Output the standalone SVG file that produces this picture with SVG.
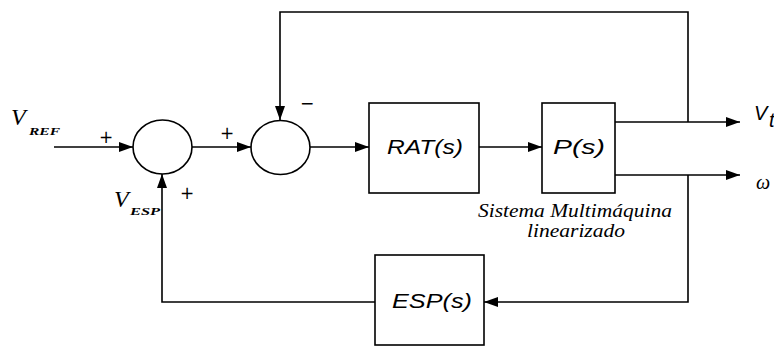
<svg xmlns="http://www.w3.org/2000/svg" width="774" height="347" viewBox="0 0 774 347">
<defs>
<marker id="arr" viewBox="0 0 14 10" refX="14" refY="5" markerWidth="14" markerHeight="10" markerUnits="userSpaceOnUse" orient="auto">
<path d="M0,0 L14,5 L0,10 Z" fill="#000"/>
</marker>
<style>
.ln{fill:none;stroke:#000;stroke-width:1.6}
.bx{fill:#fff;stroke:#000;stroke-width:1.6}
.blk{font-family:"Liberation Sans",Arial,sans-serif;font-style:italic;font-size:20px;fill:#000}
.ser{font-family:"Liberation Serif","Times New Roman",serif;font-style:italic;fill:#000}
.sgn{font-family:"DejaVu Sans",sans-serif;font-size:17px;fill:#000}
</style>
</defs>
<rect width="774" height="347" fill="#fff"/>
<g id="connectors">
<line class="ln" x1="54" y1="147" x2="133" y2="147" marker-end="url(#arr)"/>
<line class="ln" x1="192" y1="147" x2="251" y2="147" marker-end="url(#arr)"/>
<line class="ln" x1="310" y1="147" x2="369" y2="147" marker-end="url(#arr)"/>
<line class="ln" x1="479" y1="147" x2="542" y2="147" marker-end="url(#arr)"/>
<line class="ln" x1="615" y1="122" x2="740" y2="122" marker-end="url(#arr)"/>
<line class="ln" x1="615" y1="175" x2="740" y2="175" marker-end="url(#arr)"/>
<polyline class="ln" points="688,122 688,12 280,12 280,120" marker-end="url(#arr)"/>
<polyline class="ln" points="688,175 688,302 484,302" marker-end="url(#arr)"/>
<polyline class="ln" points="375,302 162,302 162,174" marker-end="url(#arr)"/>
</g>
<g id="sum1">
<ellipse class="bx" cx="162.5" cy="147" rx="29.5" ry="27"/>
<text class="sgn" x="106" y="143" text-anchor="middle">+</text>
<text class="sgn" x="187" y="199" text-anchor="middle">+</text>
</g>
<g id="sum2">
<ellipse class="bx" cx="280.5" cy="147.5" rx="29.5" ry="27"/>
<text class="sgn" x="227" y="139" text-anchor="middle">+</text>
<text class="sgn" x="307" y="109" text-anchor="middle">−</text>
</g>
<g id="rat">
<rect class="bx" x="369" y="103" width="110" height="90"/>
<text class="blk" x="387" y="154" textLength="76" lengthAdjust="spacingAndGlyphs">RAT(s)</text>
</g>
<g id="plant">
<rect class="bx" x="542" y="103" width="73" height="90"/>
<text class="blk" x="553" y="154" textLength="52" lengthAdjust="spacingAndGlyphs">P(s)</text>
<text class="ser" font-size="18" x="575" y="217" text-anchor="middle" textLength="194" lengthAdjust="spacingAndGlyphs">Sistema Multimáquina</text>
<text class="ser" font-size="18" x="576" y="237" text-anchor="middle" textLength="98" lengthAdjust="spacingAndGlyphs">linearizado</text>
</g>
<g id="esp">
<rect class="bx" x="375" y="255" width="109" height="90"/>
<text class="blk" x="392" y="308" textLength="80" lengthAdjust="spacingAndGlyphs">ESP(s)</text>
</g>
<g id="vref">
<text class="ser" font-size="24" x="11" y="125">V</text>
<text class="ser" font-size="11" font-weight="bold" x="29" y="135" textLength="31" lengthAdjust="spacingAndGlyphs">REF</text>
</g>
<g id="vesp">
<text class="ser" font-size="24" x="114" y="207">V</text>
<text class="ser" font-size="11" font-weight="bold" x="130" y="215" textLength="30" lengthAdjust="spacingAndGlyphs">ESP</text>
</g>
<g id="vt">
<text class="blk" x="754" y="120">V</text>
<text class="blk" font-size="14" x="769" y="127">t</text>
</g>
<g id="omega">
<text class="ser" font-size="20" x="756" y="189">ω</text>
</g>
</svg>
